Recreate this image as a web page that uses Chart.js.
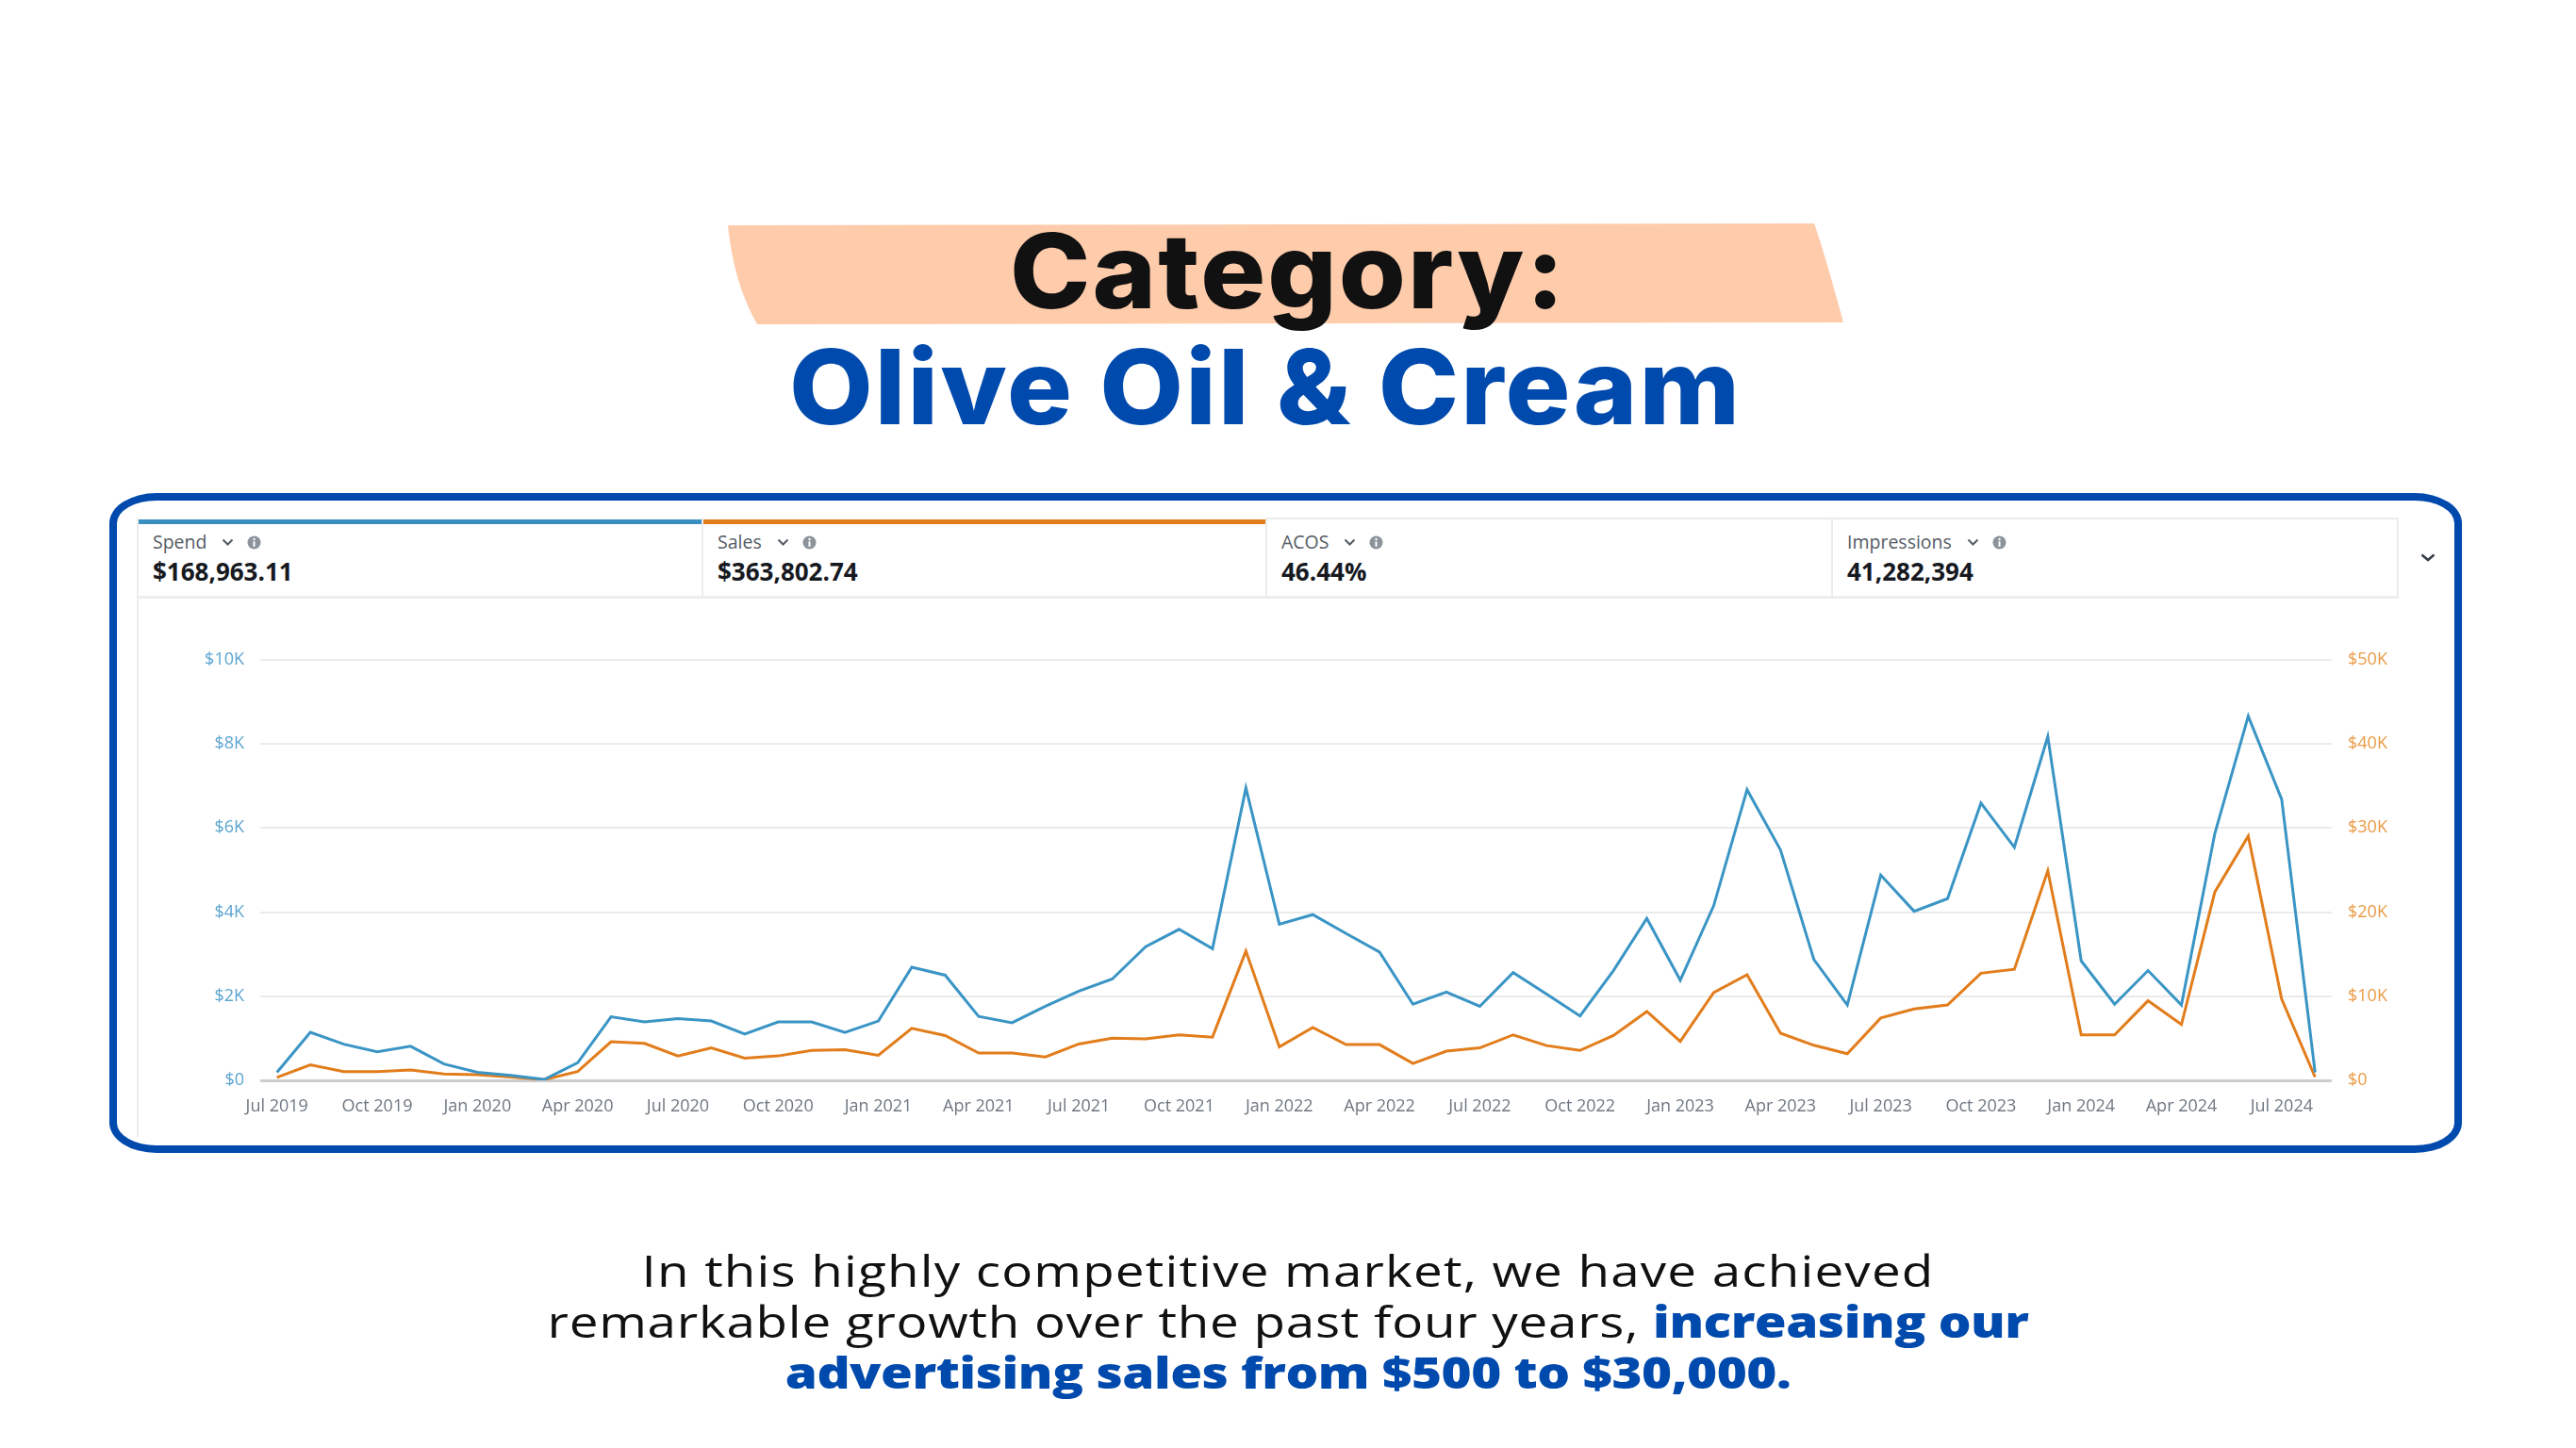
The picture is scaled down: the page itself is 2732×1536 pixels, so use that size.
<!DOCTYPE html>
<html>
<head>
<meta charset="utf-8">
<script src="https://cdn.jsdelivr.net/npm/chart.js@4.4.1/dist/chart.umd.min.js"></script>
<style>
html,body{margin:0;padding:0;background:#fff;}
body{width:2732px;height:1536px;position:relative;overflow:hidden;font-family:'Open Sans',sans-serif;}
.abs{position:absolute;}
.title{left:0;width:2732px;text-align:center;font-family:Inter,'Open Sans',sans-serif;font-weight:800;font-size:110px;line-height:110px;letter-spacing:2px;white-space:nowrap;transform:scaleX(1.045);}
.frame{left:116px;top:523px;width:2495px;height:700px;box-sizing:border-box;border:8px solid #004AAD;border-radius:50px/32px;}
.tab{top:549px;height:86px;box-sizing:border-box;border-right:2px solid #ececec;border-bottom:3px solid #ededed;background:#fff;}
.bar{position:absolute;left:0;right:0;top:2px;height:5px;}
.gbar{position:absolute;left:0;right:0;top:0;height:2px;background:#ececec;}
.lbl{position:absolute;left:15px;top:16.4px;height:19.5px;font-size:19.5px;line-height:19.5px;color:#545b64;display:flex;align-items:center;white-space:nowrap;}
.lbl svg{display:block;}
.val{position:absolute;left:15px;top:43.9px;font-size:26px;line-height:26px;font-weight:700;color:#16191f;white-space:nowrap;}
.note{left:0;top:1320px;width:2732px;text-align:center;font-size:46px;line-height:54px;color:#111;letter-spacing:1px;transform:scaleX(1.19);}
.note b{color:#004AAD;font-weight:800;letter-spacing:-0.4px;}
.note .l2{letter-spacing:0.64px;}
</style>
</head>
<body>
<svg class="abs" style="left:0;top:0" width="2732" height="600">
  <path d="M772,239 L1924,237 Q1934,265 1955,342 L803,344 Q778,300 772,239 Z" fill="#FECBAB"/>
</svg>
<div class="abs title" style="top:231.7px;color:#111;">Category:</div>
<div class="abs title" style="top:355px;color:#004AAD;left:-24px;">Olive Oil &amp; Cream</div>

<div class="abs frame"></div>
<div class="abs" style="left:145px;top:549px;width:2px;height:657px;background:#ececec;"></div>

<div class="abs tab" style="left:147px;width:599px;">
  <div class="bar" style="background:#3a8fc0"></div>
  <div class="lbl">Spend<svg style="margin-left:16px" width="13" height="8"><path d="M1.5 1.5 L6.5 6.5 L11.5 1.5" stroke="#545b64" stroke-width="2" fill="none"/></svg><svg style="margin-left:14px" width="15" height="15"><circle cx="7.5" cy="7.5" r="7" fill="#8c939b"/><rect x="6.5" y="6.3" width="2" height="5.5" fill="#fff"/><circle cx="7.5" cy="4" r="1.2" fill="#fff"/></svg></div>
  <div class="val">$168,963.11</div>
</div>
<div class="abs tab" style="left:746px;width:598px;">
  <div class="bar" style="background:#e27d1c"></div>
  <div class="lbl">Sales<svg style="margin-left:16px" width="13" height="8"><path d="M1.5 1.5 L6.5 6.5 L11.5 1.5" stroke="#545b64" stroke-width="2" fill="none"/></svg><svg style="margin-left:14px" width="15" height="15"><circle cx="7.5" cy="7.5" r="7" fill="#8c939b"/><rect x="6.5" y="6.3" width="2" height="5.5" fill="#fff"/><circle cx="7.5" cy="4" r="1.2" fill="#fff"/></svg></div>
  <div class="val">$363,802.74</div>
</div>
<div class="abs tab" style="left:1344px;width:600px;">
  <div class="gbar"></div>
  <div class="lbl">ACOS<svg style="margin-left:16px" width="13" height="8"><path d="M1.5 1.5 L6.5 6.5 L11.5 1.5" stroke="#545b64" stroke-width="2" fill="none"/></svg><svg style="margin-left:14px" width="15" height="15"><circle cx="7.5" cy="7.5" r="7" fill="#8c939b"/><rect x="6.5" y="6.3" width="2" height="5.5" fill="#fff"/><circle cx="7.5" cy="4" r="1.2" fill="#fff"/></svg></div>
  <div class="val">46.44%</div>
</div>
<div class="abs tab" style="left:1944px;width:600px;">
  <div class="gbar"></div>
  <div class="lbl">Impressions<svg style="margin-left:16px" width="13" height="8"><path d="M1.5 1.5 L6.5 6.5 L11.5 1.5" stroke="#545b64" stroke-width="2" fill="none"/></svg><svg style="margin-left:14px" width="15" height="15"><circle cx="7.5" cy="7.5" r="7" fill="#8c939b"/><rect x="6.5" y="6.3" width="2" height="5.5" fill="#fff"/><circle cx="7.5" cy="4" r="1.2" fill="#fff"/></svg></div>
  <div class="val">41,282,394</div>
</div>
<svg class="abs" style="left:2567px;top:587px" width="16" height="9"><path d="M1.5 1.5 L8 7 L14.5 1.5" stroke="#333e48" stroke-width="2.6" fill="none"/></svg>

<canvas id="c" class="abs" style="left:140px;top:672px;" width="2440" height="538"></canvas>

<div class="abs note">In this highly competitive market, we have achieved<br><span class="l2">remarkable growth over the past four years, </span><b>increasing our<br>advertising sales from $500 to $30,000.</b></div>

<script>
const months = ['Jul 2019','Aug 2019','Sep 2019','Oct 2019','Nov 2019','Dec 2019',
  'Jan 2020','Feb 2020','Mar 2020','Apr 2020','May 2020','Jun 2020','Jul 2020','Aug 2020','Sep 2020','Oct 2020','Nov 2020','Dec 2020',
  'Jan 2021','Feb 2021','Mar 2021','Apr 2021','May 2021','Jun 2021','Jul 2021','Aug 2021','Sep 2021','Oct 2021','Nov 2021','Dec 2021',
  'Jan 2022','Feb 2022','Mar 2022','Apr 2022','May 2022','Jun 2022','Jul 2022','Aug 2022','Sep 2022','Oct 2022','Nov 2022','Dec 2022',
  'Jan 2023','Feb 2023','Mar 2023','Apr 2023','May 2023','Jun 2023','Jul 2023','Aug 2023','Sep 2023','Oct 2023','Nov 2023','Dec 2023',
  'Jan 2024','Feb 2024','Mar 2024','Apr 2024','May 2024','Jun 2024','Jul 2024','Aug 2024'];
const spend = [190,1140,860,680,810,390,
  190,120,20,420,1510,1390,1470,1410,1100,1390,1390,1140,
  1410,2690,2500,1520,1370,1760,2120,2410,3180,3590,3130,6950,
  3710,3940,3490,3050,1810,2100,1760,2560,2050,1530,2610,3850,
  2380,4150,6910,5480,2870,1790,4880,4020,4320,6590,5540,8170,
  2840,1810,2610,1790,5870,8660,6680,190];
const sales = [350,1850,1040,1040,1240,770,
  660,390,80,1040,4590,4400,2900,3860,2630,2900,3550,3630,
  2970,6180,5330,3240,3240,2780,4320,5020,4940,5410,5140,15370,
  3980,6290,4250,4250,2010,3470,3860,5410,4130,3550,5330,8190,
  4630,10420,12550,5600,4170,3170,7410,8490,8960,12740,13200,24900,
  5410,5410,9460,6640,22390,29030,9650,390];
const spendTicks = ['$0','$2K','$4K','$6K','$8K','$10K'];
const salesTicks = ['$0','$10K','$20K','$30K','$40K','$50K'];
const xLabelEvery = 3;

const tickFont = {family:"'Open Sans', sans-serif", size:18};
new Chart(document.getElementById('c'), {
  type:'line',
  data:{labels:months, datasets:[
    {label:'Spend', data:spend, yAxisID:'y', borderColor:'#3a95c5', backgroundColor:'#3a95c5', borderWidth:3, pointRadius:0, tension:0, fill:false},
    {label:'Sales', data:sales, yAxisID:'y1', borderColor:'#e27d1c', backgroundColor:'#e27d1c', borderWidth:3, pointRadius:0, tension:0, fill:false}
  ]},
  options:{
    responsive:false, animation:false, devicePixelRatio:1,
    layout:{padding:{top:0,left:0,right:0,bottom:0}},
    plugins:{legend:{display:false}, tooltip:{enabled:false}},
    scales:{
      x:{offset:true, grid:{display:false, drawTicks:false}, border:{display:false},
        ticks:{autoSkip:false, maxRotation:0, minRotation:0, padding:17, color:'#6e7781', font:tickFont,
          callback:(v,i)=> i % xLabelEvery === 0 ? months[i] : ''},
        afterFit:s=>{s.height=64;}},
      y:{position:'left', min:0, max:10000,
        ticks:{stepSize:2000, padding:17, color:'#5ba4d0', font:tickFont, callback:(v,i)=>spendTicks[i]},
        grid:{drawTicks:false, color:c=>c.tick && c.tick.value===0 ? '#cdcdcd' : '#ebebeb', lineWidth:c=>c.tick && c.tick.value===0 ? 3 : 2},
        border:{display:false}, afterFit:s=>{s.width=136;}},
      y1:{position:'right', min:0, max:50000,
        ticks:{stepSize:10000, padding:17, color:'#eb9a45', font:tickFont, callback:(v,i)=>salesTicks[i]},
        grid:{drawOnChartArea:false, drawTicks:false}, border:{display:false}, afterFit:s=>{s.width=107;}}
    }
  }
});
</script>
</body>
</html>
